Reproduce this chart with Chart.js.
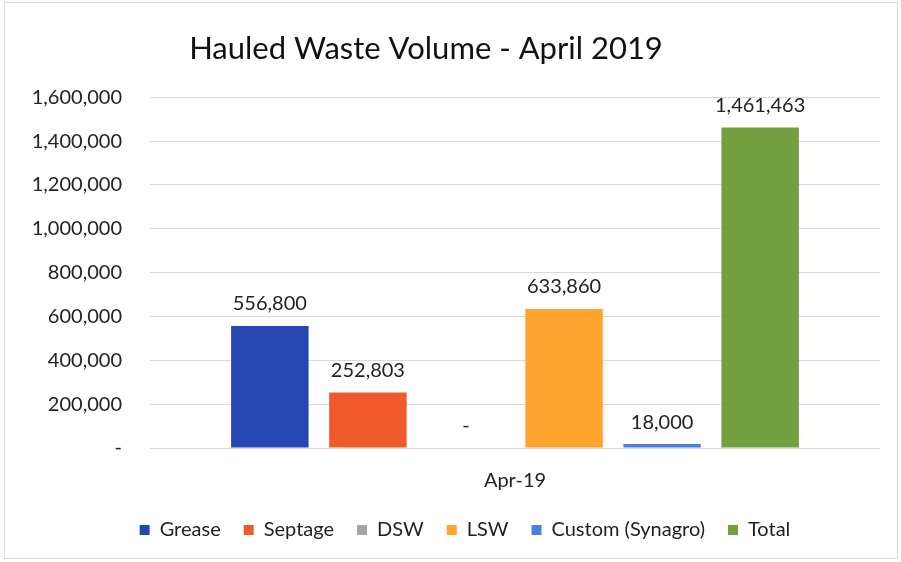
<!DOCTYPE html>
<html>
<head>
<meta charset="utf-8">
<script src="https://cdn.jsdelivr.net/npm/chart.js@4/dist/chart.umd.min.js"></script>
<style>
html,body{margin:0;padding:0;background:#fff;}
#wrap{width:901px;height:562px;position:relative;}
</style>
</head>
<body>
<div id="wrap"><canvas id="c" width="901" height="562"></canvas></div>
<script>
const categories = ['Apr-19'];
const seriesNames = ['Grease', 'Septage', 'DSW', 'LSW', 'Custom (Synagro)', 'Total'];
const seriesValues = [556800, 252803, 0, 633860, 18000, 1461463];
const seriesColors = ['#2647B2', '#EE5A2C', '#A5A5A5', '#FFA32F', '#4A7FE0', '#72A03E'];
const yMax = 1600000;
const yStep = 200000;
const titleText = 'Hauled Waste Volume - April 2019';

const FONT = 'Lato, "Open Sans", sans-serif';
const fmt = v => v === 0 ? '-' : v.toLocaleString('en-US');

const datasets = seriesNames.map((name, i) => ({
  label: name,
  data: [seriesValues[i]],
  backgroundColor: seriesColors[i],
  borderWidth: 0,
  categoryPercentage: 0.806,
  barPercentage: 0.79
}));

const valueLabels = {
  id: 'valueLabels',
  afterDatasetsDraw(chart) {
    const ctx = chart.ctx;
    ctx.save();
    ctx.fillStyle = '#222';
    ctx.font = '20px ' + FONT;
    ctx.textAlign = 'center';
    ctx.textBaseline = 'middle';
    chart.data.datasets.forEach((ds, i) => {
      const meta = chart.getDatasetMeta(i);
      meta.data.forEach((bar, j) => {
        ctx.fillText(fmt(ds.data[j]), bar.x, bar.y - 22);
      });
    });
    ctx.restore();
  }
};

const frame = {
  id: 'frame',
  beforeDraw(chart) {
    const ctx = chart.ctx;
    ctx.save();
    ctx.fillStyle = '#fff';
    ctx.fillRect(0, 0, chart.width, chart.height);
    ctx.strokeStyle = '#d9d9d9';
    ctx.lineWidth = 1;
    ctx.strokeRect(4.5, 2.5, chart.width - 8, chart.height - 6);
    ctx.restore();
  }
};

const LEG_SHIFT = 17;
const LEG_DX = 25;
// tighten the legend's top gap and nudge title/legend, keeping library drawing
const tweak = {
  id: 'tweak',
  afterInit(chart) {
    const lg = chart.legend;
    if (lg && !lg._tweaked) {
      lg._tweaked = true;
      const fit = lg.fit.bind(lg);
      lg.fit = function () { fit(); this.height -= LEG_SHIFT; };
      const draw = lg.draw.bind(lg);
      lg.draw = function () {
        const c = this.ctx;
        const b = this.bottom, h = this.height;
        this.bottom = b + LEG_SHIFT; this.height = h + LEG_SHIFT;
        c.save(); c.translate(LEG_DX, -LEG_SHIFT); draw(); c.restore();
        this.bottom = b; this.height = h;
      };
    }
    const tb = chart.titleBlock;
    if (tb && !tb._tweaked) {
      tb._tweaked = true;
      const draw = tb.draw.bind(tb);
      tb.draw = function () {
        const c = this.ctx; c.save(); c.translate(-14, 0); draw(); c.restore();
      };
    }
  }
};

new Chart(document.getElementById('c'), {
  type: 'bar',
  data: { labels: categories, datasets },
  plugins: [valueLabels, frame, tweak],
  options: {
    responsive: false,
    animation: false,
    layout: { padding: { left: 0, right: 21, top: 30, bottom: 12 } },
    plugins: {
      title: {
        display: true,
        text: titleText,
        color: '#111',
        font: { family: FONT, size: 31, weight: 'normal' },
        padding: { top: 0, bottom: 30 }
      },
      legend: {
        position: 'bottom',
        labels: {
          color: '#222',
          font: { family: FONT, size: 20 },
          boxWidth: 10,
          boxHeight: 10,
          padding: 23
        }
      },
      tooltip: { enabled: false }
    },
    scales: {
      x: {
        grid: { display: false, drawTicks: false },
        border: { display: false },
        ticks: { color: '#222', font: { family: FONT, size: 20 }, padding: 21 }
      },
      y: {
        min: 0,
        max: yMax,
        afterFit(scale) { scale.width = 150; },
        grid: { color: '#d9d9d9', drawTicks: false, lineWidth: 1 },
        border: { display: false },
        ticks: {
          stepSize: yStep,
          color: '#222',
          padding: 28,
          font: { family: FONT, size: 20 },
          callback: v => fmt(v)
        }
      }
    }
  }
});
</script>
</body>
</html>
